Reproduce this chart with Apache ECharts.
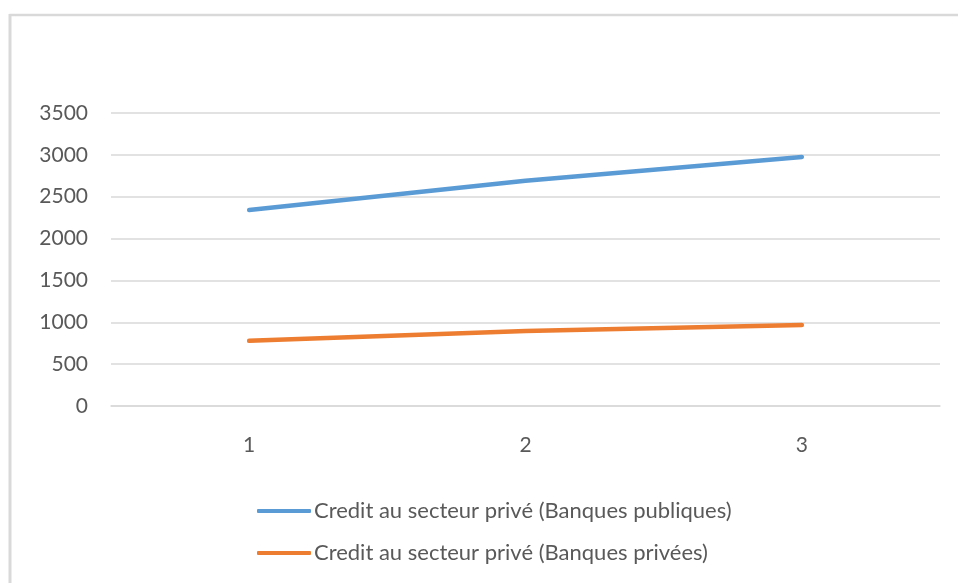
<!DOCTYPE html>
<html>
<head>
<meta charset="utf-8">
<script src="https://cdn.jsdelivr.net/npm/echarts@6/dist/echarts.min.js"></script>
<style>
  html, body { margin: 0; padding: 0; background: #fff; }
  #chart { width: 958px; height: 583px; }
</style>
</head>
<body>
<div id="chart"></div>
<script>
// Credit to the private sector, by bank type
const categories = ['1', '2', '3'];
const publicBanks = [2340, 2690, 2975];
const privateBanks = [778, 895, 968];
const seriesNames = [
  'Credit au secteur privé (Banques publiques)',
  'Credit au secteur privé (Banques privées)'
];

const chart = echarts.init(document.getElementById('chart'), null, { renderer: 'canvas' });
const font = 'Lato, "Open Sans", sans-serif';

chart.setOption({
  animation: false,
  backgroundColor: '#ffffff',
  graphic: [
    {
      type: 'line',
      shape: { x1: 9.5, y1: 15, x2: 958, y2: 15 },
      style: { stroke: '#d9d9d9', lineWidth: 2.5 },
      silent: true
    },
    {
      type: 'line',
      shape: { x1: 10, y1: 14, x2: 10, y2: 583 },
      style: { stroke: '#d9d9d9', lineWidth: 3 },
      silent: true
    }
  ],
  grid: { left: 111, right: 18, top: 113, bottom: 177 },
  xAxis: {
    type: 'category',
    data: categories,
    boundaryGap: true,
    axisLine: { show: true, lineStyle: { color: '#d9d9d9', width: 1.5 } },
    axisTick: { show: false },
    axisLabel: { color: '#595959', fontFamily: font, fontSize: 21, margin: 29 }
  },
  yAxis: {
    type: 'value',
    min: 0,
    max: 3500,
    interval: 500,
    axisLine: { show: false },
    axisTick: { show: false },
    splitLine: { lineStyle: { color: '#d9d9d9', width: 1.5 } },
    axisLabel: {
      color: '#595959', fontFamily: font, fontSize: 21, margin: 23,
      formatter: (v) => String(v)
    }
  },
  legend: {
    orient: 'vertical',
    left: 252,
    top: 495,
    itemWidth: 54,
    itemHeight: 4,
    itemGap: 20,
    icon: 'roundRect',
    textStyle: { color: '#595959', fontFamily: font, fontSize: 22, lineHeight: 22, padding: [0, 0, 0, -2] },
    data: seriesNames
  },
  series: [
    {
      name: seriesNames[0],
      type: 'line',
      data: publicBanks,
      symbol: 'none',
      lineStyle: { color: '#5b9bd5', width: 4.5, cap: 'round' },
      itemStyle: { color: '#5b9bd5' }
    },
    {
      name: seriesNames[1],
      type: 'line',
      data: privateBanks,
      symbol: 'none',
      lineStyle: { color: '#ed7d31', width: 4.5, cap: 'round' },
      itemStyle: { color: '#ed7d31' }
    }
  ]
});
</script>
</body>
</html>
